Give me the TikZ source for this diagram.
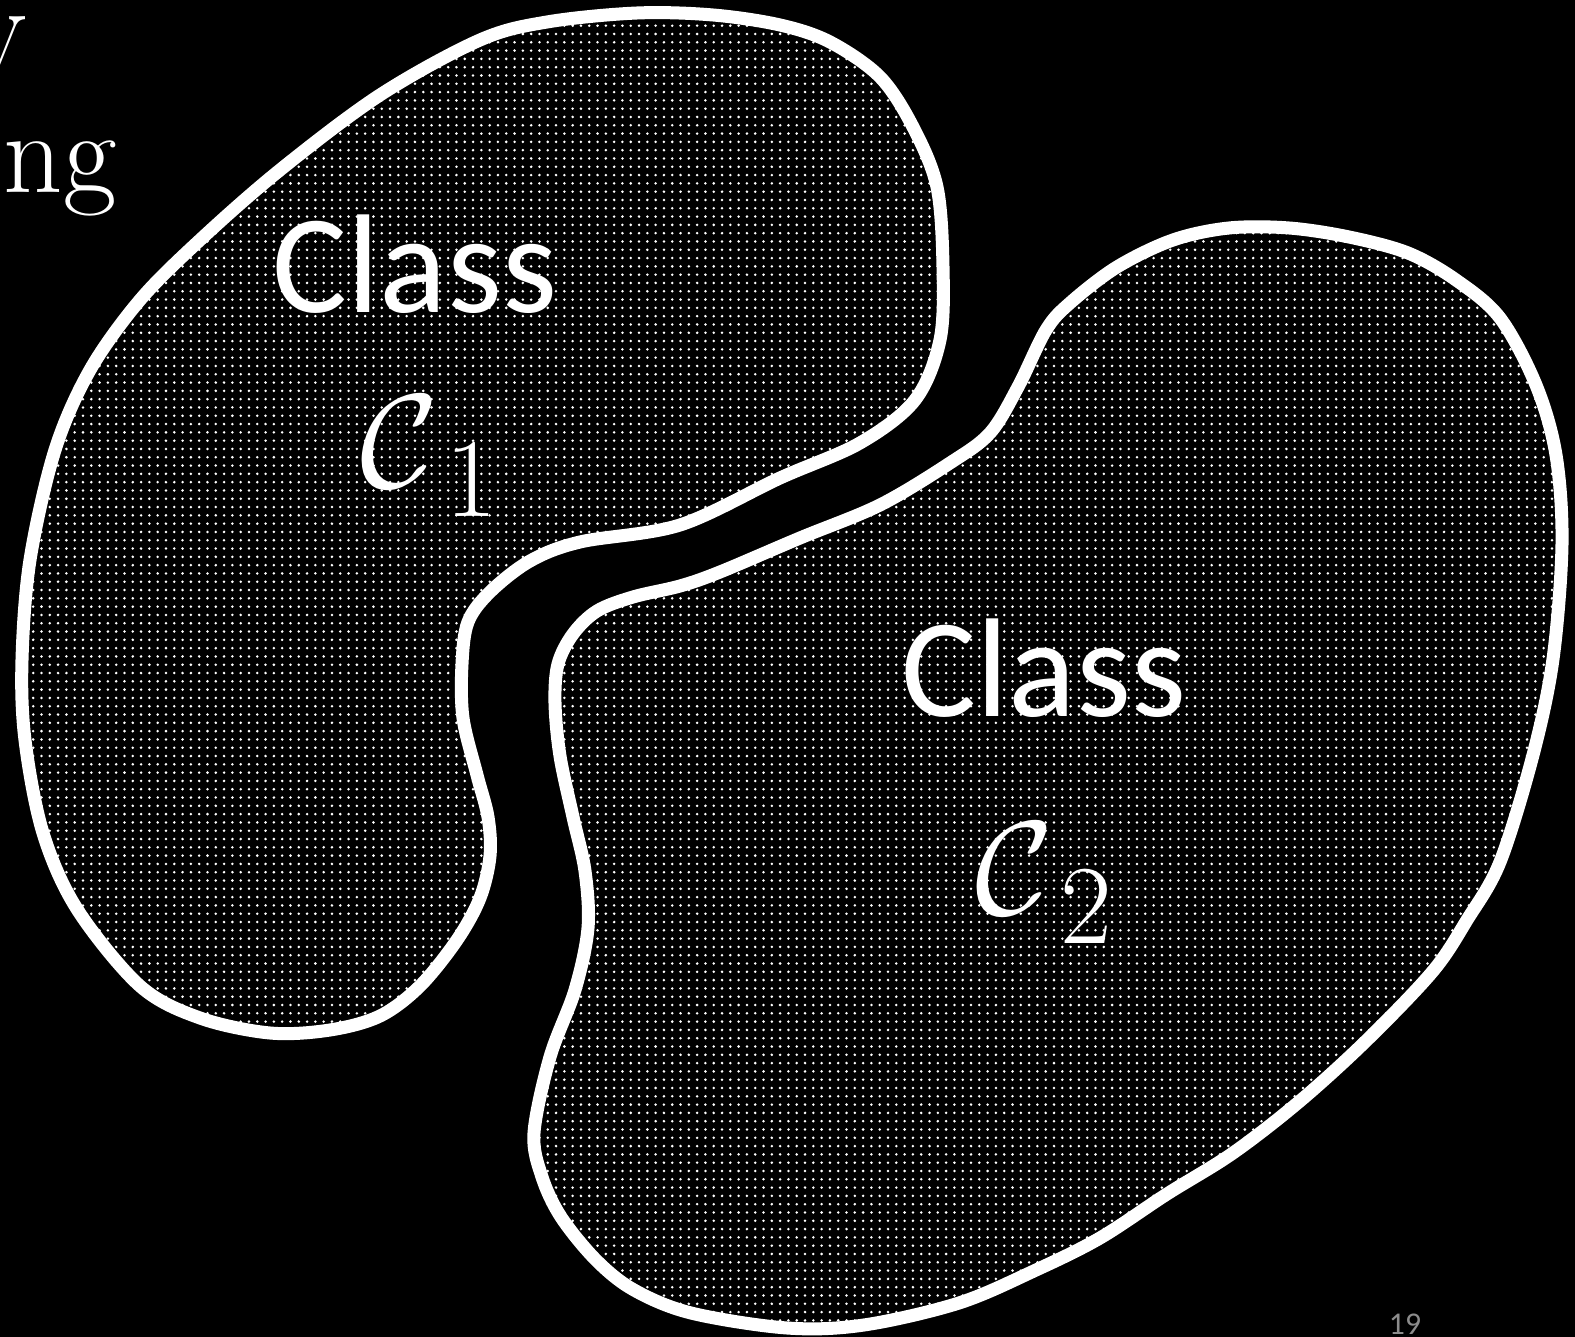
\RequirePackage{fix-cm}
\documentclass[tikz,border=0pt]{standalone}
\usepackage{fontspec}
\newfontfamily\slidesans{Carlito}
\usetikzlibrary{patterns.meta}
\DeclareMathSizes{38}{38}{32}{22}
\definecolor{pagegray}{RGB}{140,140,140}
\newcommand{\classidx}[1]{\mathcal{C}_{\kern4pt\lower2.3pt\hbox{$\scriptstyle #1$}}}

\tikzset{
  region/.style={draw=white, line width=3.7pt, pattern={Dots[distance=2.36pt, radius=0.4pt]}, pattern color=white},
  classname/.style={text=white, inner sep=0pt, font=\slidesans\fontsize{40}{48}\selectfont},
  classsym/.style={text=white, inner sep=0pt, font=\fontsize{38}{44}\selectfont},
  cuttext/.style={text=white, inner sep=0pt, font=\fontsize{33}{40}\selectfont}
}

\begin{document}
\begin{tikzpicture}[x=0.01cm,y=-0.01cm]

\fill [black] (0,0) rectangle (1575,1337);
\useasboundingbox (0,0) rectangle (1575,1337);

% left-over words of the slide title
\node [cuttext, anchor=base east] (titlev) at (27,67) {v};
\node [cuttext, anchor=base west] (titleng) at (3,193) {ng};

% class C1
\draw [region] plot [smooth cycle, tension=0.55] coordinates {
  (637,13) (713,15) (780,25) (830,42) (880,77) (913,127) (937,187) (943,267)
  (940,340) (915,400) (860,443) (780,478) (680,525) (580,542) (530,561)
  (490,592) (468,622) (462,664) (463,718) (477,775) (488,817) (490,856)
  (480,898) (457,940) (420,986) (380,1016) (330,1030) (270,1033) (200,1018)
  (140,986) (77,909) (43,833) (25,740) (22,660) (30,560) (55,450) (90,370)
  (140,300) (200,240) (280,170) (380,95) (480,40) (547,22)};

% class C2
\draw [region] plot [smooth cycle, tension=0.55] coordinates {
  (1229,228) (1289,228) (1349,237) (1408,253) (1456,280) (1500,318)
  (1536,385) (1556,455) (1562,544) (1553,659) (1533,755) (1500,862)
  (1467,920) (1433,971) (1367,1040) (1300,1101) (1233,1153) (1167,1194)
  (1100,1238) (1036,1270) (959,1303) (864,1325) (787,1328) (691,1313)
  (634,1290) (596,1260) (561,1217) (542,1177) (534,1133) (550,1057)
  (575,990) (588,928) (585,871) (573,817) (560,756) (555,703) (558,664)
  (573,634) (597,611) (633,597) (680,586) (720,572) (800,538) (880,505)
  (950,463) (990,433) (1018,387) (1046,330) (1070,303) (1117,267) (1173,240)};

\node [classname, anchor=base] (name1) at (415,313) {Class};
\node [classsym, anchor=base west] (sym1) at (360,488) {$\classidx{1}$};

\node [classname, anchor=base] (name2) at (1044,717) {Class};
\node [classsym, anchor=base west] (sym2) at (975,915) {$\classidx{2}$};

\node [text=pagegray, inner sep=0pt, anchor=base, font=\slidesans\fontsize{9}{11}\selectfont] (pagenum) at (1405,1334) {19};

\end{tikzpicture}
\end{document}
